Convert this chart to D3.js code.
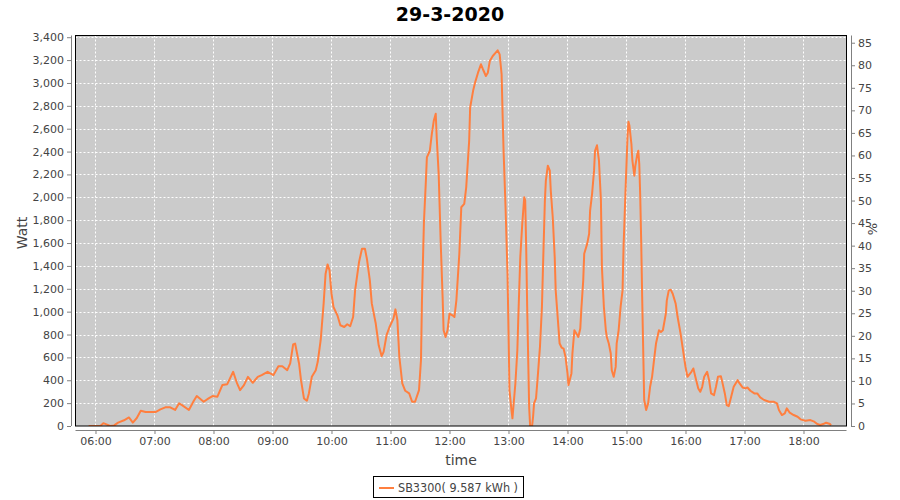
<!DOCTYPE html>
<html><head><meta charset="utf-8">
<script src="https://cdn.jsdelivr.net/npm/d3@7/dist/d3.min.js"></script>
<style>
body{margin:0;background:#fff;}
text{font-family:"DejaVu Sans",sans-serif;}
</style></head>
<body><svg id="c" width="900" height="500"></svg>
<script>
const title = "29-3-2020";
const seriesName = "SB3300( 9.587 kWh )";
const times = ["05:53","06:05","06:08","06:15","06:19","06:23","06:29","06:34","06:38","06:42","06:46","06:51","07:01","07:06","07:11","07:16","07:21","07:25","07:28","07:35","07:40","07:43","07:50","07:55","07:59","08:04","08:09","08:14","08:20","08:24","08:27","08:31","08:35","08:40","08:45","08:49","08:55","09:01","09:06","09:10","09:15","09:18","09:21","09:23","09:27","09:29","09:32","09:35","09:37","09:40","09:44","09:46","09:49","09:52","09:54","09:56","09:58","10:00","10:02","10:06","10:09","10:13","10:16","10:19","10:22","10:24","10:28","10:31","10:34","10:36","10:39","10:41","10:45","10:48","10:51","10:53","10:56","10:59","11:03","11:05","11:07","11:09","11:12","11:15","11:19","11:22","11:25","11:29","11:31","11:32","11:34","11:36","11:37","11:40","11:42","11:44","11:46","11:47","11:49","11:51","11:53","11:54","11:56","11:58","12:00","12:03","12:05","12:07","12:10","12:12","12:15","12:17","12:20","12:21","12:24","12:26","12:29","12:32","12:34","12:37","12:39","12:41","12:44","12:47","12:49","12:51","12:53","12:54","12:55","12:57","12:59","13:00","13:01","13:03","13:04","13:05","13:07","13:09","13:10","13:12","13:14","13:16","13:17","13:18","13:19","13:20","13:21","13:22","13:24","13:25","13:26","13:28","13:30","13:32","13:34","13:35","13:37","13:38","13:40","13:42","13:43","13:45","13:47","13:48","13:50","13:52","13:54","13:56","13:58","14:00","14:01","14:04","14:05","14:07","14:09","14:11","14:13","14:14","14:16","14:17","14:20","14:22","14:23","14:25","14:27","14:28","14:30","14:32","14:34","14:35","14:37","14:39","14:40","14:42","14:44","14:45","14:47","14:49","14:50","14:52","14:54","14:56","14:57","14:59","15:01","15:02","15:03","15:05","15:06","15:08","15:09","15:11","15:12","15:13","15:14","15:15","15:16","15:17","15:18","15:20","15:22","15:24","15:26","15:28","15:30","15:33","15:35","15:37","15:40","15:41","15:43","15:45","15:47","15:50","15:52","15:55","15:58","16:00","16:02","16:06","16:08","16:10","16:13","16:15","16:17","16:19","16:22","16:24","16:26","16:29","16:31","16:33","16:36","16:37","16:40","16:42","16:44","16:46","16:49","16:53","16:55","16:58","17:01","17:03","17:06","17:10","17:13","17:16","17:20","17:25","17:30","17:33","17:35","17:38","17:41","17:43","17:46","17:50","17:54","17:57","18:02","18:07","18:11","18:14","18:17","18:20","18:23","18:27","18:28"];
const watts = [0,0,25,0,5,30,50,75,30,70,133,122,122,145,163,163,140,198,183,140,220,262,212,241,262,256,358,366,474,372,314,358,430,378,430,445,474,445,523,523,488,547,713,721,547,401,241,221,285,430,488,561,750,1070,1332,1413,1361,1157,1041,968,881,866,890,872,953,1186,1433,1550,1550,1463,1273,1070,896,706,611,648,794,866,939,1020,925,604,372,308,285,212,212,314,576,1099,1782,2146,2349,2407,2553,2669,2730,2523,2204,1622,1128,837,779,837,983,968,953,1099,1506,1913,1942,2087,2494,2785,2931,3003,3090,3163,3120,3061,3090,3192,3236,3265,3285,3250,3076,2727,2407,1913,1332,837,314,140,67,168,372,663,953,1477,1768,2000,1971,1564,1041,604,168,0,0,81,198,241,460,692,1041,1361,1971,2146,2276,2233,2058,1826,1477,1186,953,721,686,677,604,460,358,460,634,837,808,779,852,1012,1273,1506,1593,1681,1884,2030,2233,2407,2455,2320,1971,1389,1041,837,779,721,634,488,430,517,721,837,1041,1186,1564,2058,2523,2660,2625,2466,2320,2189,2276,2378,2407,2291,2000,1593,1099,663,227,140,198,343,430,576,721,837,822,837,983,1099,1186,1192,1157,1070,953,808,634,517,430,474,503,430,329,299,343,430,474,401,285,270,343,430,436,401,285,183,174,241,343,401,372,337,329,337,308,285,285,250,227,212,212,198,140,96,111,154,116,96,81,58,46,52,38,17,9,17,29,17,6];
const wattTicks = [0,200,400,600,800,1000,1200,1400,1600,1800,2000,2200,2400,2600,2800,3000,3200,3400];
const pctTicks = [0,5,10,15,20,25,30,35,40,45,50,55,60,65,70,75,80,85];
const hourTicks = ["06:00","07:00","08:00","09:00","10:00","11:00","12:00","13:00","14:00","15:00","16:00","17:00","18:00"];

const parse = s => { const [h,m] = s.split(":").map(Number); return new Date(2020,2,29,h,m,0); };
const data = times.map((t,i)=>({t:parse(t), v:watts[i]}));

const L=75.5, R=846.5, T=35.5, B=426;
const svg = d3.select("#c");
const x = d3.scaleTime().domain([new Date(2020,2,29,5,39,40), new Date(2020,2,29,18,43,44)]).range([L,R]);
const y = d3.scaleLinear().domain([0,3415]).range([B,T]);
const y2 = d3.scaleLinear().domain([0,86.6]).range([B,T]);

svg.append("rect").attr("x",L).attr("y",T).attr("width",R-L).attr("height",B-T).attr("fill","#cbcbcb");

const g = svg.append("g");
g.selectAll("line.hg").data(wattTicks.slice(1)).join("line")
  .attr("x1",L).attr("x2",R).attr("y1",d=>Math.round(y(d))+0.5).attr("y2",d=>Math.round(y(d))+0.5)
  .attr("stroke","#fff").attr("stroke-dasharray","2,2");
g.selectAll("line.vg").data(hourTicks.map(parse)).join("line")
  .attr("y1",T).attr("y2",B).attr("x1",d=>Math.round(x(d))+0.5).attr("x2",d=>Math.round(x(d))+0.5)
  .attr("stroke","#fff").attr("stroke-dasharray","2,2");

svg.append("clipPath").attr("id","cp").append("rect").attr("x",L).attr("y",T).attr("width",R-L).attr("height",B-T);
svg.append("path").datum(data).attr("clip-path","url(#cp)")
  .attr("fill","none").attr("stroke","#ff7f3f").attr("stroke-width",2).attr("stroke-linejoin","round")
  .attr("d", d3.line().x(d=>x(d.t)).y(d=>y(d.v)));

svg.append("rect").attr("x",L).attr("y",T).attr("width",R-L).attr("height",B-T).attr("fill","none").attr("stroke","#000");

function styleAxis(sel){
  sel.select(".domain").attr("stroke","#808080");
  sel.selectAll(".tick line").attr("stroke","#808080");
  sel.selectAll(".tick text").attr("fill","#444").style("font-size","11px").style("font-family","DejaVu Sans, sans-serif");
}
const ax = svg.append("g").attr("transform","translate(0,430)")
  .call(d3.axisBottom(x).tickValues(hourTicks.map(parse)).tickFormat(d3.timeFormat("%H:%M")).tickSizeOuter(0).tickSize(4).tickPadding(3));
styleAxis(ax);
const ay = svg.append("g").attr("transform","translate(71,0)")
  .call(d3.axisLeft(y).tickValues(wattTicks).tickFormat(d3.format(",")).tickSizeOuter(0).tickSize(4).tickPadding(3));
styleAxis(ay);
const ay2 = svg.append("g").attr("transform","translate(851,0)")
  .call(d3.axisRight(y2).tickValues(pctTicks).tickSizeOuter(0).tickSize(4).tickPadding(3));
styleAxis(ay2);
ax.select(".domain").attr("d",`M${L},0.5H${R}`);
ay.select(".domain").attr("d",`M0.5,${T}V${B}`);
ay2.select(".domain").attr("d",`M0.5,${T}V${B}`);

svg.append("text").attr("x",450).attr("y",21).attr("text-anchor","middle")
  .style("font-size","19px").style("font-weight","bold").attr("fill","#000").text(title);
svg.append("text").attr("transform","translate(27,233) rotate(-90)").attr("text-anchor","middle")
  .style("font-size","14px").attr("fill","#444").text("Watt");
svg.append("text").attr("transform","translate(877,229) rotate(-90)").attr("text-anchor","middle")
  .style("font-size","13px").attr("fill","#444").text("%");
svg.append("text").attr("x",461).attr("y",465).attr("text-anchor","middle")
  .style("font-size","14px").attr("fill","#444").text("time");

const lg = svg.append("g");
lg.append("rect").attr("x",373.5).attr("y",476.5).attr("width",150).attr("height",21).attr("fill","#fff").attr("stroke","#000");
lg.append("line").attr("x1",379).attr("x2",394).attr("y1",488).attr("y2",488).attr("stroke","#ff7f3f").attr("stroke-width",2);
lg.append("text").attr("x",398).attr("y",492).style("font-size","11.5px").attr("textLength",120).attr("lengthAdjust","spacingAndGlyphs").attr("fill","#444").text(seriesName);
</script></body></html>
